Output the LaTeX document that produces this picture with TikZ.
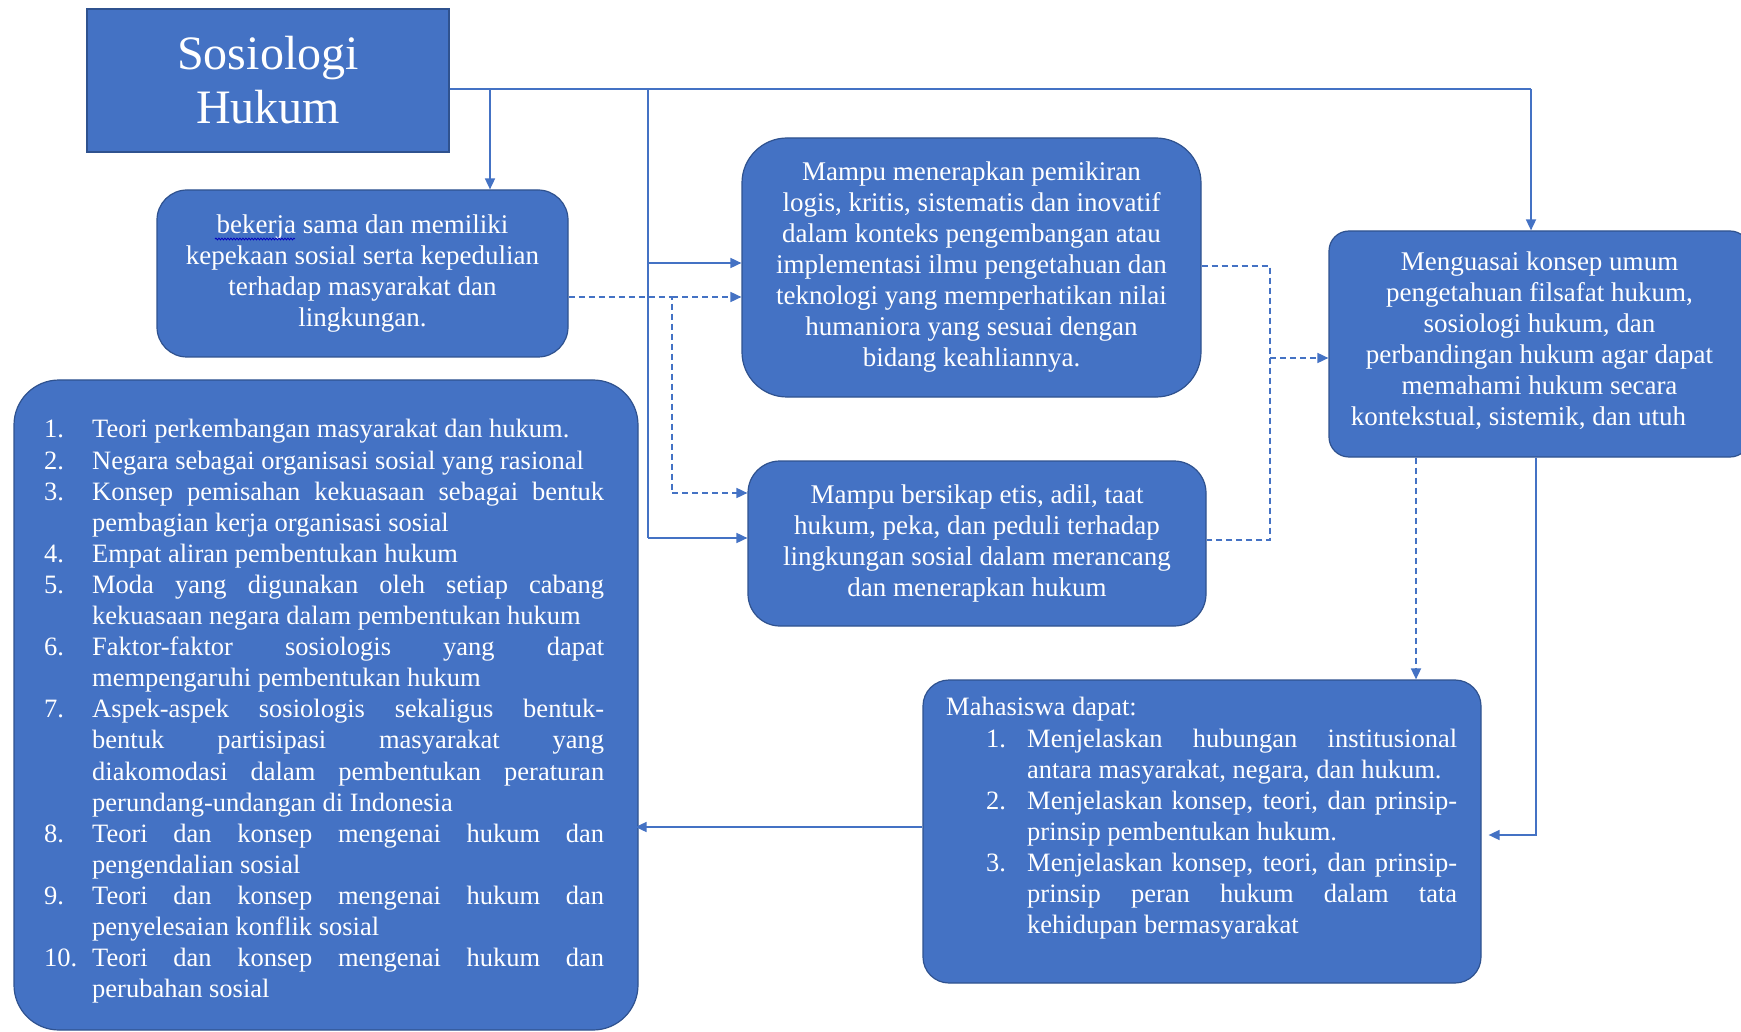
\documentclass[tikz,border=0pt]{standalone}
\usepackage{fontspec}
\setmainfont{Liberation Serif}
\usetikzlibrary{arrows.meta,decorations.pathmorphing}
\definecolor{boxblue}{HTML}{4472C4}
\definecolor{boxedge}{HTML}{2F528F}
\definecolor{linkblue}{HTML}{4472C4}
\newcommand\txtsize{\fontsize{27pt}{31pt}\selectfont}
\newcommand\lstsize{\fontsize{26.5pt}{31.1pt}\selectfont}
\newcommand\setjust{\parindent=0pt\leftskip=0pt\rightskip=0pt\parfillskip=0pt plus 1fil\tolerance=10000\hbadness=10000\hyphenpenalty=10000}
\begin{document}
\begin{tikzpicture}[x=1pt,y=-1pt,
  boxbase/.style={draw=boxedge, line width=1.2pt, fill=boxblue, text=white, inner sep=0pt, font=\txtsize, align=center},
  roundbox/.style={boxbase, rounded corners=#1},
  plaintext/.style={inner sep=0pt, text=white, anchor=north west, align=justify},
  conn/.style={draw=linkblue, line width=1.7pt},
  dashconn/.style={conn, dash pattern=on 6pt off 4pt},
  tip/.style={-{Triangle[length=11pt,width=10pt]}}
]
\useasboundingbox (0,0) rectangle (1741,1032);
\clip (0,0) rectangle (1741,1032);

% boxes
\node[boxbase, minimum width=362pt, minimum height=143pt, font=\fontsize{48pt}{54pt}\selectfont] (title) at (268,80.5) {Sosiologi\\Hukum};
\node[roundbox=30pt, minimum width=411pt, minimum height=167pt] (bek) at (362.5,273.5)
  {bekerja sama dan memiliki\\kepekaan sosial serta kepedulian\\terhadap masyarakat dan\\lingkungan.};
\node[roundbox=45pt, minimum width=459pt, minimum height=259pt] (mampu) at (971.5,267.5)
  {Mampu menerapkan pemikiran\\logis, kritis, sistematis dan inovatif\\dalam konteks pengembangan atau\\implementasi ilmu pengetahuan dan\\teknologi yang memperhatikan nilai\\humaniora yang sesuai dengan\\bidang keahliannya.};
\node[roundbox=32pt, minimum width=458pt, minimum height=165pt] (bers) at (977,543.5)
  {Mampu bersikap etis, adil, taat\\hukum, peka, dan peduli terhadap\\lingkungan sosial dalam merancang\\dan menerapkan hukum};
\node[roundbox=20pt, minimum width=421pt, minimum height=226pt] (meng) at (1539.5,344) {};
\node[inner sep=0pt, text=white, font=\txtsize, align=center] (mengtext) at (1539.5,341)
  {Menguasai konsep umum\\pengetahuan filsafat hukum,\\sosiologi hukum, dan\\perbandingan hukum agar dapat\\memahami hukum secara\\kontekstual, sistemik, dan utuh\hspace*{42pt}};
\node[roundbox=26pt, minimum width=558pt, minimum height=303pt] (mah) at (1202,831.5) {};
\node[roundbox=45pt, minimum width=624pt, minimum height=650pt] (list) at (326,705) {};

% texts of the two list boxes
\node[plaintext, text width=511pt, font=\lstsize] (mahtext) at (946,694) {%
  \setjust
  \strut Mahasiswa dapat:\par
  \hangindent=81pt\hangafter=1\noindent\hspace*{40pt}\makebox[41pt][l]{1.}Menjelaskan hubungan institusional\linebreak antara masyarakat, negara, dan hukum.\par
  \hangindent=81pt\hangafter=1\noindent\hspace*{40pt}\makebox[41pt][l]{2.}Menjelaskan konsep, teori, dan prinsip-\linebreak prinsip pembentukan hukum.\par
  \hangindent=81pt\hangafter=1\noindent\hspace*{40pt}\makebox[41pt][l]{3.}Menjelaskan konsep, teori, dan prinsip-\linebreak prinsip peran hukum dalam tata\linebreak kehidupan bermasyarakat\par};
\node[plaintext, text width=560pt, font=\lstsize] (listtext) at (44,416) {%
  \setjust
  \hangindent=48pt\hangafter=1\noindent\strut\makebox[48pt][l]{1.}Teori perkembangan masyarakat dan hukum.\par
  \hangindent=48pt\hangafter=1\noindent\makebox[48pt][l]{2.}Negara sebagai organisasi sosial yang rasional\par
  \hangindent=48pt\hangafter=1\noindent\makebox[48pt][l]{3.}Konsep pemisahan kekuasaan sebagai bentuk\linebreak pembagian kerja organisasi sosial\par
  \hangindent=48pt\hangafter=1\noindent\makebox[48pt][l]{4.}Empat aliran pembentukan hukum\par
  \hangindent=48pt\hangafter=1\noindent\makebox[48pt][l]{5.}Moda yang digunakan oleh setiap cabang\linebreak kekuasaan negara dalam pembentukan hukum\par
  \hangindent=48pt\hangafter=1\noindent\makebox[48pt][l]{6.}Faktor-faktor sosiologis yang dapat\linebreak mempengaruhi pembentukan hukum\par
  \hangindent=48pt\hangafter=1\noindent\makebox[48pt][l]{7.}Aspek-aspek sosiologis sekaligus bentuk-\linebreak bentuk partisipasi masyarakat yang\linebreak diakomodasi dalam pembentukan peraturan\linebreak perundang-undangan di Indonesia\par
  \hangindent=48pt\hangafter=1\noindent\makebox[48pt][l]{8.}Teori dan konsep mengenai hukum dan\linebreak pengendalian sosial\par
  \hangindent=48pt\hangafter=1\noindent\makebox[48pt][l]{9.}Teori dan konsep mengenai hukum dan\linebreak penyelesaian konflik sosial\par
  \hangindent=48pt\hangafter=1\noindent\makebox[48pt][l]{10.}Teori dan konsep mengenai hukum dan\linebreak perubahan sosial\par};

% spelling squiggle under "bekerja"
\draw[draw=blue!75!black, line width=0.8pt, decorate, decoration={snake, amplitude=0.9pt, segment length=3pt}] (215,239) -- (295,239);

% junction coordinates
\coordinate (t0) at (title.east |- 0,89);
\coordinate (jA) at (490,89);
\coordinate (jB) at (648,89);
\coordinate (jC) at (1531,89);
\coordinate (jB1) at (648,263);
\coordinate (jB2) at (648,538);
\coordinate (d1) at (672,297);
\coordinate (d2) at (672,493);
\coordinate (r1) at (1270,266);
\coordinate (r2) at (1270,540);
\coordinate (r3) at (1270,358);
\coordinate (m1) at (1416,500);
\coordinate (s1) at (1536,835);
\coordinate (l1) at (923,827);

% solid connectors from the title
\draw[conn] (t0) -- (jC);
\draw[conn, tip] (jC) -- (jC |- meng.north);
\draw[conn, tip] (jA) -- (jA |- bek.north);
\draw[conn] (jB) -- (jB2);
\draw[conn, tip] (jB1) -- (jB1 -| mampu.west);
\draw[conn, tip] (jB2) -- (jB2 -| bers.west);

% dashed connectors
\draw[dashconn] (bek.east |- d1) -- (d1) -- (d2);
\draw[dashconn, tip] (d1) -- (d1 -| mampu.west);
\draw[dashconn, tip] (d2) -- (d2 -| bers.west);
\draw[dashconn] (mampu.east |- r1) -- (r1) -- (r2) -- (bers.east |- r2);
\draw[dashconn, tip] (r3) -- (r3 -| meng.west);
\draw[dashconn, tip] (m1 |- meng.south) -- (m1 |- mah.north);

% lower solid connectors
\draw[conn, tip, shorten >=7pt] (s1 |- meng.south) -- (s1) -- (s1 -| mah.east);
\draw[conn, tip, shorten >=-3pt] (mah.west |- l1) -- (l1 -| list.east);
\end{tikzpicture}
\end{document}
